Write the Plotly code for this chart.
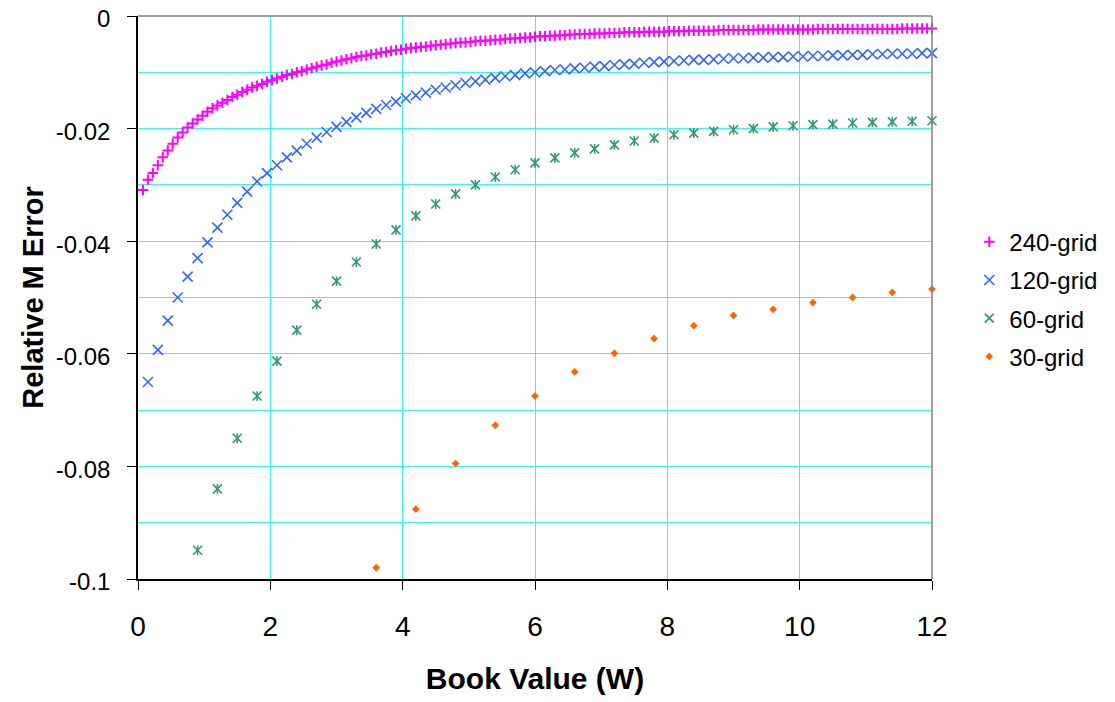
import plotly.graph_objects as go

# ---------------- data ----------------
x_240 = [0.075, 0.15, 0.225, 0.3, 0.375, 0.45, 0.525, 0.6, 0.675, 0.75,
         0.825, 0.9, 0.975, 1.05, 1.125, 1.2, 1.275, 1.35, 1.425, 1.5,
         1.575, 1.65, 1.725, 1.8, 1.875, 1.95, 2.025, 2.1, 2.175, 2.25,
         2.325, 2.4, 2.475, 2.55, 2.625, 2.7, 2.775, 2.85, 2.925, 3.0,
         3.075, 3.15, 3.225, 3.3, 3.375, 3.45, 3.525, 3.6, 3.675, 3.75,
         3.825, 3.9, 3.975, 4.05, 4.125, 4.2, 4.275, 4.35, 4.425, 4.5,
         4.575, 4.65, 4.725, 4.8, 4.875, 4.95, 5.025, 5.1, 5.175, 5.25,
         5.325, 5.4, 5.475, 5.55, 5.625, 5.7, 5.775, 5.85, 5.925, 6.0,
         6.075, 6.15, 6.225, 6.3, 6.375, 6.45, 6.525, 6.6, 6.675, 6.75,
         6.825, 6.9, 6.975, 7.05, 7.125, 7.2, 7.275, 7.35, 7.425, 7.5,
         7.575, 7.65, 7.725, 7.8, 7.875, 7.95, 8.025, 8.1, 8.175, 8.25,
         8.325, 8.4, 8.475, 8.55, 8.625, 8.7, 8.775, 8.85, 8.925, 9.0,
         9.075, 9.15, 9.225, 9.3, 9.375, 9.45, 9.525, 9.6, 9.675, 9.75,
         9.825, 9.9, 9.975, 10.05, 10.125, 10.2, 10.275, 10.35, 10.425, 10.5,
         10.575, 10.65, 10.725, 10.8, 10.875, 10.95, 11.025, 11.1, 11.175, 11.25,
         11.325, 11.4, 11.475, 11.55, 11.625, 11.7, 11.775, 11.85, 11.925, 12.0]
y_240 = [-0.0309, -0.0291, -0.0279, -0.0265, -0.0251, -0.0239, -0.0227, -0.0216, -0.0207, -0.0198,
         -0.0191, -0.0184, -0.0177, -0.0170, -0.0164, -0.0159, -0.0154, -0.0149, -0.0144, -0.0140,
         -0.0135, -0.0131, -0.0127, -0.0124, -0.0121, -0.0117, -0.0114, -0.0111, -0.0108, -0.0105,
         -0.0103, -0.0100, -0.0098, -0.0095, -0.0093, -0.0090, -0.0088, -0.0086, -0.0083, -0.0081,
         -0.0079, -0.0077, -0.0075, -0.0073, -0.0071, -0.0070, -0.0068, -0.0067, -0.0065, -0.0064,
         -0.0062, -0.0061, -0.0060, -0.0058, -0.0057, -0.0056, -0.0055, -0.0054, -0.0053, -0.0052,
         -0.0051, -0.0050, -0.0049, -0.0048, -0.0047, -0.0047, -0.0046, -0.0045, -0.0044, -0.0044,
         -0.0043, -0.0042, -0.0042, -0.0041, -0.0040, -0.0040, -0.0039, -0.0038, -0.0038, -0.0037,
         -0.0036, -0.0036, -0.0035, -0.0035, -0.0034, -0.0034, -0.0033, -0.0033, -0.0032, -0.0032,
         -0.0032, -0.0031, -0.0031, -0.0031, -0.0030, -0.0030, -0.0030, -0.0029, -0.0029, -0.0029,
         -0.0029, -0.0028, -0.0028, -0.0028, -0.0028, -0.0028, -0.0027, -0.0027, -0.0027, -0.0027,
         -0.0026, -0.0026, -0.0026, -0.0026, -0.0026, -0.0026, -0.0025, -0.0025, -0.0025, -0.0025,
         -0.0025, -0.0025, -0.0025, -0.0025, -0.0024, -0.0024, -0.0024, -0.0024, -0.0024, -0.0024,
         -0.0024, -0.0024, -0.0024, -0.0024, -0.0024, -0.0024, -0.0023, -0.0023, -0.0023, -0.0023,
         -0.0023, -0.0023, -0.0023, -0.0023, -0.0023, -0.0023, -0.0023, -0.0023, -0.0023, -0.0023,
         -0.0023, -0.0023, -0.0023, -0.0022, -0.0022, -0.0022, -0.0022, -0.0022, -0.0022, -0.0022]

x_120 = [0.15, 0.3, 0.45, 0.6, 0.75, 0.9, 1.05, 1.2, 1.35, 1.5,
         1.65, 1.8, 1.95, 2.1, 2.25, 2.4, 2.55, 2.7, 2.85, 3.0,
         3.15, 3.3, 3.45, 3.6, 3.75, 3.9, 4.05, 4.2, 4.35, 4.5,
         4.65, 4.8, 4.95, 5.1, 5.25, 5.4, 5.55, 5.7, 5.85, 6.0,
         6.15, 6.3, 6.45, 6.6, 6.75, 6.9, 7.05, 7.2, 7.35, 7.5,
         7.65, 7.8, 7.95, 8.1, 8.25, 8.4, 8.55, 8.7, 8.85, 9.0,
         9.15, 9.3, 9.45, 9.6, 9.75, 9.9, 10.05, 10.2, 10.35, 10.5,
         10.65, 10.8, 10.95, 11.1, 11.25, 11.4, 11.55, 11.7, 11.85, 12.0]
y_120 = [-0.0650, -0.0593, -0.0541, -0.0500, -0.0463, -0.0430, -0.0402, -0.0376, -0.0353, -0.0332,
         -0.0312, -0.0294, -0.0279, -0.0265, -0.0251, -0.0239, -0.0227, -0.0216, -0.0206, -0.0197,
         -0.0188, -0.0180, -0.0172, -0.0165, -0.0158, -0.0152, -0.0146, -0.0141, -0.0136, -0.0131,
         -0.0127, -0.0123, -0.0119, -0.0116, -0.0113, -0.0110, -0.0107, -0.0105, -0.0102, -0.0100,
         -0.0098, -0.0096, -0.0095, -0.0093, -0.0092, -0.0090, -0.0089, -0.0087, -0.0086, -0.0085,
         -0.0083, -0.0082, -0.0081, -0.0080, -0.0079, -0.0078, -0.0078, -0.0077, -0.0076, -0.0075,
         -0.0075, -0.0074, -0.0074, -0.0073, -0.0073, -0.0072, -0.0072, -0.0071, -0.0071, -0.0070,
         -0.0070, -0.0069, -0.0069, -0.0068, -0.0068, -0.0067, -0.0067, -0.0067, -0.0066, -0.0066]

x_60 = [0.9, 1.2, 1.5, 1.8, 2.1, 2.4, 2.7, 3.0, 3.3, 3.6,
        3.9, 4.2, 4.5, 4.8, 5.1, 5.4, 5.7, 6.0, 6.3, 6.6,
        6.9, 7.2, 7.5, 7.8, 8.1, 8.4, 8.7, 9.0, 9.3, 9.6,
        9.9, 10.2, 10.5, 10.8, 11.1, 11.4, 11.7, 12.0]
y_60 = [-0.0949, -0.0840, -0.0750, -0.0675, -0.0613, -0.0558, -0.0512, -0.0471, -0.0437, -0.0405,
        -0.0380, -0.0355, -0.0334, -0.0316, -0.0300, -0.0286, -0.0273, -0.0261, -0.0252, -0.0243,
        -0.0236, -0.0229, -0.0222, -0.0217, -0.0211, -0.0208, -0.0205, -0.0202, -0.0200, -0.0197,
        -0.0195, -0.0193, -0.0192, -0.0190, -0.0189, -0.0188, -0.0187, -0.0186]

x_30 = [3.6, 4.2, 4.8, 5.4, 6.0, 6.6, 7.2, 7.8, 8.4, 9.0, 9.6, 10.2, 10.8, 11.4, 12.0]
y_30 = [-0.0980, -0.0876, -0.0795, -0.0727, -0.0675, -0.0632, -0.0599, -0.0573, -0.0550,
        -0.0532, -0.0521, -0.0509, -0.0500, -0.0491, -0.0485]

x_tickvals = [0, 2, 4, 6, 8, 10, 12]
x_ticktext = ["0", "2", "4", "6", "8", "10", "12"]
y_tickvals = [0, -0.02, -0.04, -0.06, -0.08, -0.1]
y_ticktext = ["0", "-0.02", "-0.04", "-0.06", "-0.08", "-0.1"]

FONT = "Arial, 'Liberation Sans', sans-serif"
MAGENTA = "#FF00FF"
BLUE = "#3366FF"
GREEN = "#339966"
ORANGE = "#FF6600"
GRID = "#33F5F5"

fig = go.Figure()
fig.add_trace(go.Scatter(
    x=x_240, y=y_240, mode="markers", name="240-grid", legendgroup="a",
    cliponaxis=False,
    marker=dict(symbol="cross-thin-open", size=7.5, color=MAGENTA,
                line=dict(color=MAGENTA, width=2))))
fig.add_trace(go.Scatter(
    x=x_120, y=y_120, mode="markers", name="120-grid", legendgroup="b",
    cliponaxis=False,
    marker=dict(symbol="x-thin-open", size=10, color=BLUE,
                line=dict(color=BLUE, width=1.6))))
fig.add_trace(go.Scatter(
    x=x_60, y=y_60, mode="markers", name="60-grid", legendgroup="c",
    cliponaxis=False,
    marker=dict(symbol="x-thin-open", size=9, color=GREEN,
                line=dict(color=GREEN, width=1.6))))
fig.add_trace(go.Scatter(
    x=x_60, y=y_60, mode="markers", name="60-grid", legendgroup="c",
    showlegend=False, cliponaxis=False, hoverinfo="skip",
    marker=dict(symbol="line-ns-open", size=7, color=GREEN,
                line=dict(color=GREEN, width=1.6))))
fig.add_trace(go.Scatter(
    x=x_30, y=y_30, mode="markers", name="30-grid", legendgroup="d",
    cliponaxis=False,
    marker=dict(symbol="diamond", size=6, color=ORANGE,
                line=dict(width=0))))

# page body has an 8px margin, so the figure is drawn 8px in from the corner
fig.update_layout(
    template="none",
    width=1107, height=694,
    paper_bgcolor="white", plot_bgcolor="white",
    margin=dict(l=130, r=183, t=8, b=123, autoexpand=False),
    font=dict(family=FONT, color="black"),
    showlegend=True,
    legend=dict(x=1.047, xanchor="left", y=0.497, yanchor="middle",
                font=dict(size=24, family=FONT), tracegroupgap=4,
                bgcolor="rgba(0,0,0,0)", borderwidth=0),
    shapes=[
        dict(type="line", xref="paper", yref="paper", x0=0, x1=1, y0=1, y1=1,
             line=dict(color="#808080", width=1.5)),
        dict(type="line", xref="paper", yref="paper", x0=1, x1=1, y0=0, y1=1,
             line=dict(color="#808080", width=1.5)),
    ],
)

fig.update_xaxes(
    range=[0, 12], tickmode="array", tickvals=x_tickvals, ticktext=x_ticktext,
    ticks="outside", ticklen=9, tickwidth=1.2, tickcolor="black",
    showline=True, linecolor="black", linewidth=1.5,
    showgrid=True, gridcolor=GRID, gridwidth=1,
    zeroline=False, automargin=False, ticklabeloverflow="allow",
    tickfont=dict(size=28, family=FONT), ticklabelstandoff=13,
    title=dict(text="<b>Book Value (W)</b>", font=dict(size=30, family=FONT),
               standoff=27),
)
fig.update_yaxes(
    range=[-0.1, 0], tickmode="array", tickvals=y_tickvals, ticktext=y_ticktext,
    ticks="outside", ticklen=9, tickwidth=1.2, tickcolor="black",
    showline=True, linecolor="black", linewidth=1.5,
    showgrid=True, gridcolor=GRID, gridwidth=1,
    minor=dict(dtick=0.01, tick0=0, showgrid=True, gridcolor=GRID, gridwidth=1,
               ticks=""),
    zeroline=False, automargin=False, ticklabeloverflow="allow",
    tickfont=dict(size=24, family=FONT), ticklabelstandoff=12,
    ticklabelshift=3,
    title=dict(text="<b>Relative M Error</b>", font=dict(size=29, family=FONT),
               standoff=4),
)

fig.write_html("out.html")
